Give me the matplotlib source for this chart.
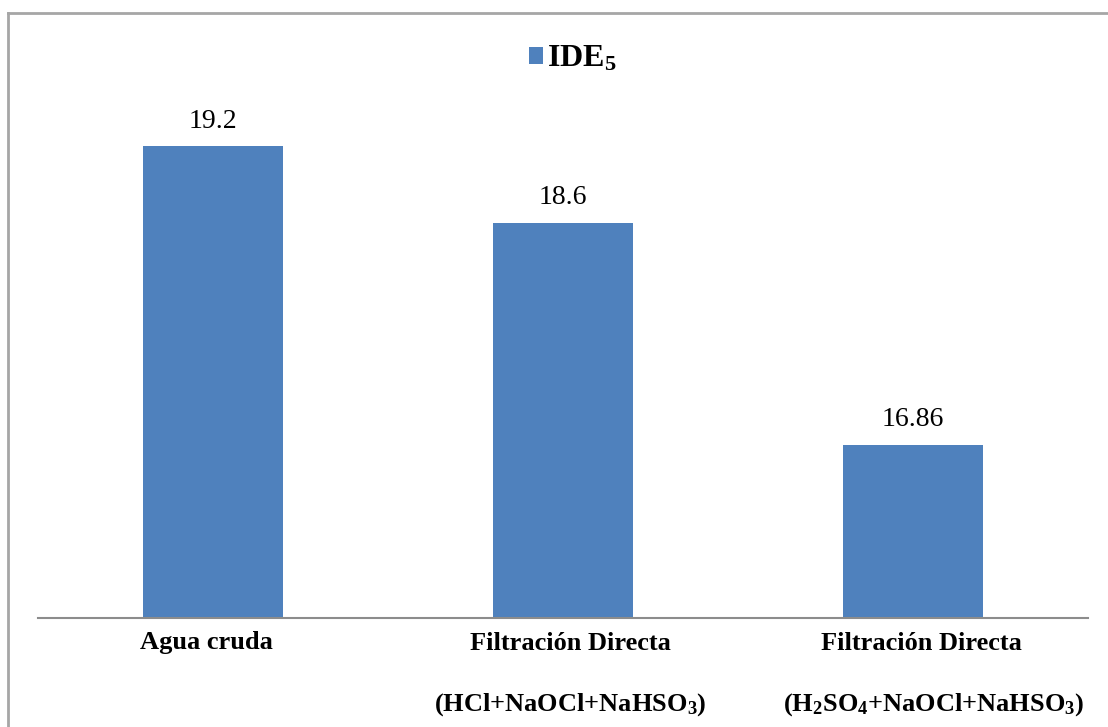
import matplotlib.pyplot as plt
from matplotlib.lines import Line2D
import numpy as np

plt.rcParams['font.family'] = ['Liberation Serif', 'DejaVu Serif']
plt.rcParams['mathtext.fontset'] = 'custom'
plt.rcParams['mathtext.rm'] = 'Liberation Serif:bold'
plt.rcParams['mathtext.bf'] = 'Liberation Serif:bold'
plt.rcParams['mathtext.it'] = 'Liberation Serif:bold'

categories = ['Agua cruda', 'Filtración Directa', 'Filtración Directa']
sublabels = ['', r'$\mathbf{(HCl{+}NaOCl{+}NaHSO_3)}$',
             r'$\mathbf{(H_2SO_4{+}NaOCl{+}NaHSO_3)}$']
values = [19.2, 18.6, 16.86]
value_labels = ['19.2', '18.6', '16.86']
series_name = r'$\mathbf{IDE_5}$'

bar_color = '#4F81BD'

fig = plt.figure(figsize=(11.08, 7.27), dpi=100)
ax = fig.add_axes([38/1108, 109/727, 1050/1108, (618-44)/727])

x = np.arange(len(categories))
bars = ax.bar(x, values, width=0.4, color=bar_color, label=series_name)
ax.set_xlim(-0.5, len(categories) - 0.5)
ax.set_ylim(15.5, 20.0)

for xi, v, lab in zip(x, values, value_labels):
    ax.annotate(lab, (xi, v), xytext=(0, 18), textcoords='offset points',
                ha='center', va='center', fontsize=20)

ax.set_xticks(x)
ax.set_xticklabels([])
ax.tick_params(axis='x', length=0)
ax.set_yticks([])
for s in ['top', 'right', 'left']:
    ax.spines[s].set_visible(False)
ax.spines['bottom'].set_color('#8c8c8c')
ax.spines['bottom'].set_linewidth(1.5)

# category labels, drawn as text so each line can be nudged like Excel does
shift1 = [-5, 5, 6]
shift2 = [0, 5, 15]
for xi, cat, sub, d1, d2 in zip(x, categories, sublabels, shift1, shift2):
    ax.annotate(cat, (xi, 0), xycoords=ax.get_xaxis_transform(),
                xytext=(d1, -18), textcoords='offset points',
                ha='center', va='center', fontsize=19, fontweight='bold')
    if sub:
        ax.annotate(sub, (xi, 0), xycoords=ax.get_xaxis_transform(),
                    xytext=(d2, -62), textcoords='offset points',
                    ha='center', va='center', fontsize=19)

leg = ax.legend(loc='upper center', bbox_to_anchor=(0.509, 1.05), frameon=False,
                fontsize=23, handlelength=0.45, handleheight=0.45,
                handletextpad=0.12)

# chart area border (top and left edges)
fig.add_artist(Line2D([8/1108, 1.0], [1 - 13/727, 1 - 13/727],
                      transform=fig.transFigure, color='#a6a6a6', lw=2))
fig.add_artist(Line2D([8/1108, 8/1108], [0, 1 - 13/727],
                      transform=fig.transFigure, color='#a6a6a6', lw=2))

fig.savefig('out.png', dpi=100)
